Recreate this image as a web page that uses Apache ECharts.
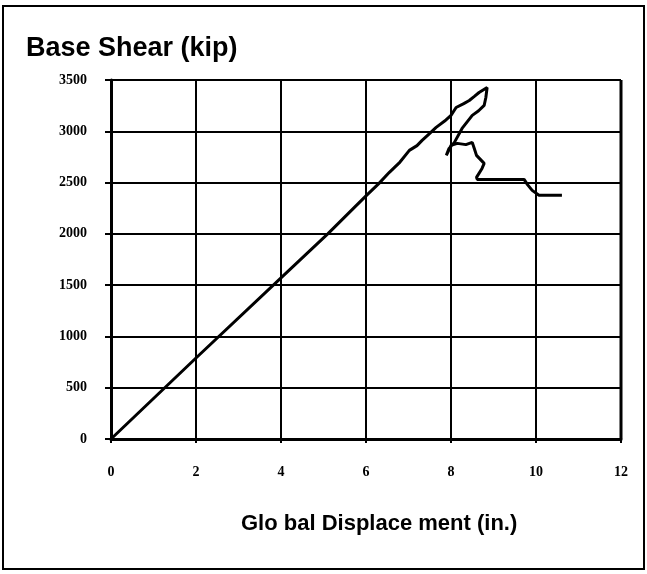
<!DOCTYPE html>
<html>
<head>
<meta charset="utf-8">
<script src="https://cdn.jsdelivr.net/npm/echarts@6/dist/echarts.min.js"></script>
<style>
html,body{margin:0;padding:0;background:#fff;}
#chart{width:647px;height:574px;}
</style>
</head>
<body>
<div id="chart"></div>
<script>
var dispIn = [0, 2, 4, 5.1, 6, 6.3, 6.55, 6.8, 7.02, 7.2, 7.32, 7.5, 7.65, 7.85, 8.0, 8.12, 8.3, 8.43, 8.55, 8.66, 8.85, 8.82, 8.78, 8.65, 8.5, 8.26, 8.08, 7.95, 7.89, 7.93, 8.0, 8.15, 8.35, 8.5, 8.55, 8.6, 8.78, 8.73, 8.6, 8.62, 9.2, 9.72, 9.8, 9.91, 10.07, 10.3, 10.61];
var shearKip = [0, 790, 1570, 2000, 2370, 2490, 2600, 2700, 2814, 2860, 2911, 2980, 3038, 3100, 3155, 3232, 3270, 3300, 3340, 3378, 3427, 3330, 3252, 3200, 3155, 3028, 2892, 2830, 2765, 2800, 2862, 2882, 2870, 2892, 2830, 2765, 2687, 2638, 2551, 2531, 2531, 2531, 2480, 2424, 2376, 2376, 2376];
var xTicks = [0, 2, 4, 6, 8, 10, 12];
var yTicks = [0, 500, 1000, 1500, 2000, 2500, 3000, 3500];

var pts = dispIn.map(function (x, i) { return [x, shearKip[i]]; });
var chart = echarts.init(document.getElementById('chart'), null, {renderer: 'canvas'});
var labelFont = {color: '#000', fontFamily: 'Liberation Serif', fontWeight: 'bold', fontSize: 14};
chart.setOption({
  animation: false,
  backgroundColor: '#fff',
  graphic: [{
    type: 'rect', shape: {x: 3, y: 6, width: 641, height: 563},
    style: {fill: 'none', stroke: '#000', lineWidth: 2}
  }],
  title: [{
    text: 'Base Shear (kip)', left: 21, top: 30,
    textStyle: {fontFamily: 'Liberation Sans', fontWeight: 'bold', fontSize: 27, color: '#000'}
  }, {
    text: 'Glo bal Displace ment (in.)', left: 236, top: 508,
    textStyle: {fontFamily: 'Liberation Sans', fontWeight: 'bold', fontSize: 22, color: '#000'}
  }],
  grid: {left: 111, right: 26, top: 80, bottom: 135, containLabel: false, show: false},
  xAxis: {
    type: 'value', min: 0, max: 12, interval: 2,
    axisLine: {show: true, onZero: false, lineStyle: {color: '#000', width: 3}},
    axisTick: {show: true, length: 4, lineStyle: {color: '#000', width: 2}},
    splitLine: {show: true, lineStyle: {color: '#000', width: 2}},
    axisLabel: Object.assign({margin: 26, formatter: function (v) { return xTicks.indexOf(v) >= 0 ? String(v) : ''; }}, labelFont)
  },
  yAxis: {
    type: 'value', min: 0, max: 3500, interval: 500,
    axisLine: {show: true, onZero: false, lineStyle: {color: '#000', width: 3}},
    axisTick: {show: true, length: 6, lineStyle: {color: '#000', width: 2}},
    splitLine: {show: true, lineStyle: {color: '#000', width: 2}},
    axisLabel: Object.assign({margin: 24, formatter: function (v) { return yTicks.indexOf(v) >= 0 ? String(v) : ''; }}, labelFont)
  },
  series: [{
    type: 'line', data: pts, showSymbol: false, smooth: false,
    lineStyle: {color: '#000', width: 3}, z: 5
  }, {
    type: 'line', data: [[12, 0], [12, 3500]], showSymbol: false, silent: true,
    lineStyle: {color: '#000', width: 3}
  }]
});
</script>
</body>
</html>
